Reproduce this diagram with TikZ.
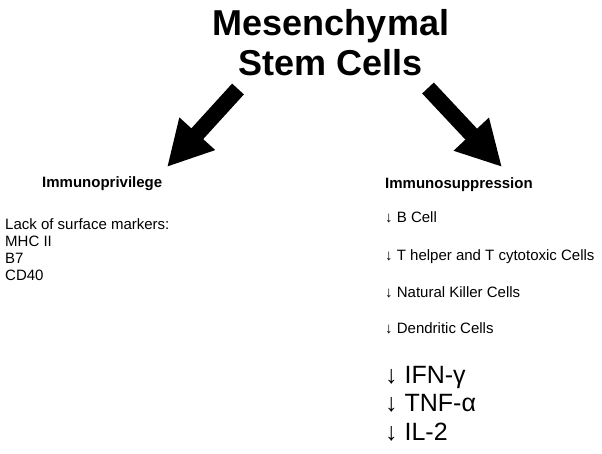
\documentclass[tikz,border=0pt]{standalone}
\usepackage{fontspec}
\setmainfont{Liberation Sans}
\usetikzlibrary{arrows.meta, positioning}
\tikzstyle{bigarrow} = [line width=16pt, -{Triangle[length=45pt,width=45pt]}]
\tikzstyle{titletext} = [font=\fontsize{36}{40}\selectfont\bfseries, align=center, inner sep=0pt, anchor=base]
\tikzstyle{heading} = [font=\fontsize{15}{17}\selectfont\bfseries, inner sep=0pt, anchor=base west]
\tikzstyle{item} = [font=\fontsize{15}{16.7}\selectfont, inner sep=0pt, anchor=base west, align=left]
\tikzstyle{bigitem} = [font=\fontsize{25}{28.5}\selectfont, inner sep=0pt, anchor=base west, align=left]

\begin{document}
\begin{tikzpicture}[x=1pt, y=-1pt]
\useasboundingbox (0,0) rectangle (602,453);

% Title (base = last line)
\node (title) [titletext] at (331,75) {Mesenchymal\\Stem Cells};

% Arrows
\coordinate (ltail) at (238,89);
\coordinate (ltip) at (167,167);
\coordinate (rtail) at (428,88);
\coordinate (rtip) at (502,167);
\draw [bigarrow] (ltail) -- (ltip);
\draw [bigarrow] (rtail) -- (rtip);

% Left side
\node (priv) [heading] at (42,187) {Immunoprivilege};
\node (markers) [item] at (5,280) {Lack of surface markers:\\MHC II\\B7\\CD40};

% Right side
\node (supp) [heading] at (385,188) {Immunosuppression};
\node (bcell) [item] at (385,222) {↓ B Cell};
\node (tcell) [item] at (385,260) {↓ T helper and T cytotoxic Cells};
\node (nk) [item] at (385,297) {↓ Natural Killer Cells};
\node (dc) [item] at (385,333) {↓ Dendritic Cells};
\node (cyto) [bigitem] at (385,440) {↓ IFN-γ\\↓ TNF-α\\↓ IL-2};

\end{tikzpicture}
\end{document}
